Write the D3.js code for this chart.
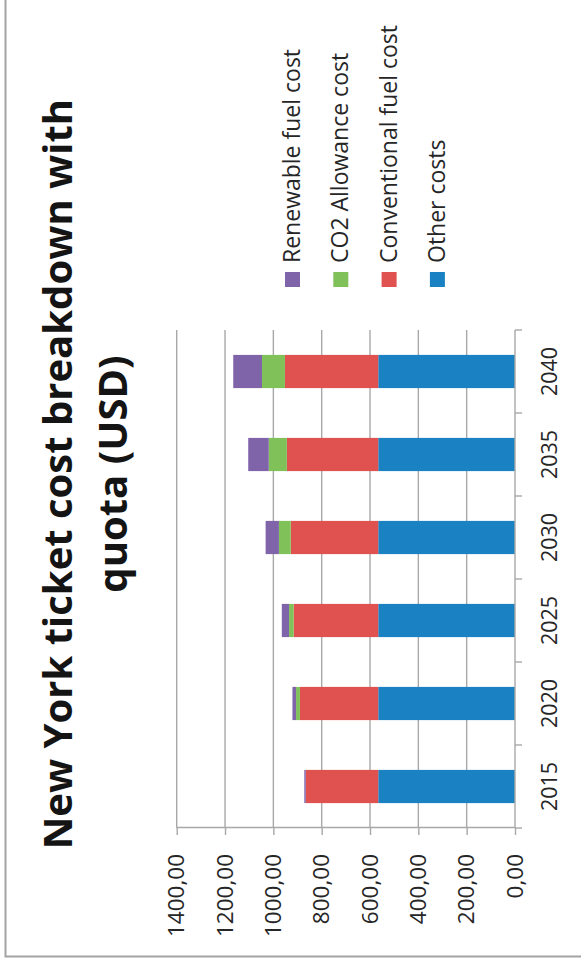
<!DOCTYPE html>
<html>
<head>
<meta charset="utf-8">
<script src="https://cdn.jsdelivr.net/npm/d3@7"></script>
<style>
  body { margin: 0; background: #fff; }
  svg { display: block; font-family: "Open Sans", sans-serif; }
</style>
</head>
<body>
<script>
// chart values (USD per ticket)
var years = ["2015", "2020", "2025", "2030", "2035", "2040"];
var otherCosts = [566, 566, 566, 566, 566, 566];
var conventionalFuel = [300, 324, 350, 362, 378, 386];
var co2Allowance = [0, 16, 19, 49, 75, 95];
var renewableFuel = [6, 15, 30, 55, 85, 119];
var valueTicks = [0, 200, 400, 600, 800, 1000, 1200, 1400];

var series = [
  {name: "Other costs", color: "#1a82c3", values: otherCosts},
  {name: "Conventional fuel cost", color: "#e0524f", values: conventionalFuel},
  {name: "CO2 Allowance cost", color: "#80c15a", values: co2Allowance},
  {name: "Renewable fuel cost", color: "#8064aa", values: renewableFuel}
];

var svg = d3.select("body").append("svg")
    .attr("width", 581)
    .attr("height", 966);

// frame (only left and bottom edges show)
svg.append("path")
    .attr("d", "M5.5,0 V956.5 H581")
    .attr("fill", "none")
    .attr("stroke", "#a3a3a3")
    .attr("stroke-width", 2);

// chart is laid out as a normal column chart (966 x 581) then turned
var g = svg.append("g")
    .attr("transform", "translate(0," + 966 + ") rotate(-90)");

var plot = {left: 138, right: 636, top: 176.7, bottom: 515};

var x = d3.scaleBand()
    .domain(years)
    .range([plot.left, plot.right])
    .paddingInner(0.6)
    .paddingOuter(0.3);

var y = d3.scaleLinear()
    .domain([0, 1400])
    .range([plot.bottom, plot.top]);

// gridlines
g.selectAll(".grid")
  .data(valueTicks.slice(1))
  .enter().append("line")
    .attr("x1", plot.left).attr("x2", plot.right)
    .attr("y1", function(d) { return y(d); })
    .attr("y2", function(d) { return y(d); })
    .attr("stroke", "#a8a8a8")
    .attr("stroke-width", 1.4);

// stacked bars
var rows = years.map(function(yr, i) {
  var r = {year: yr};
  series.forEach(function(s) { r[s.name] = s.values[i]; });
  return r;
});
var stack = d3.stack().keys(series.map(function(s) { return s.name; }))(rows);

g.selectAll(".layer")
  .data(stack)
  .enter().append("g")
    .attr("fill", function(d, i) { return series[i].color; })
  .selectAll("rect")
  .data(function(d) { return d; })
  .enter().append("rect")
    .attr("x", function(d) { return x(d.data.year); })
    .attr("width", x.bandwidth())
    .attr("y", function(d) { return y(d[1]); })
    .attr("height", function(d) { return y(d[0]) - y(d[1]); });

// value axis (left of the unturned chart)
var yAxis = g.append("g")
    .attr("transform", "translate(" + plot.left + ",0)")
    .call(d3.axisLeft(y)
      .tickValues(valueTicks)
      .tickSize(7)
      .tickSizeOuter(0)
      .tickPadding(19)
      .tickFormat(function(d) { return d3.format(".2f")(d).replace(".", ","); }));
yAxis.select(".domain").attr("stroke", "#a8a8a8").attr("stroke-width", 1.4);
yAxis.selectAll(".tick line").attr("stroke", "#a8a8a8").attr("stroke-width", 1.4);
yAxis.selectAll("text")
    .attr("font-size", 22.5)
    .attr("fill", "#262626")
    .attr("font-family", "Open Sans");

// category axis line and ticks
var step = x.step();
var catBounds = years.map(function(yr) { return x(yr) - step * 0.3; });
catBounds.push(plot.right);
g.append("line")
    .attr("x1", plot.left).attr("x2", plot.right)
    .attr("y1", plot.bottom).attr("y2", plot.bottom)
    .attr("stroke", "#a8a8a8").attr("stroke-width", 1.4);
g.selectAll(".ctick")
  .data(catBounds)
  .enter().append("line")
    .attr("x1", function(d) { return d; })
    .attr("x2", function(d) { return d; })
    .attr("y1", plot.bottom).attr("y2", plot.bottom + 7)
    .attr("stroke", "#a8a8a8").attr("stroke-width", 1.4);
g.selectAll(".clabel")
  .data(years)
  .enter().append("text")
    .attr("x", function(d) { return x(d) + x.bandwidth() / 2; })
    .attr("y", 557)
    .attr("text-anchor", "middle")
    .attr("font-size", 21.5)
    .attr("fill", "#262626")
    .text(function(d) { return d; });

// title
var title = g.append("text")
    .attr("text-anchor", "middle")
    .attr("font-weight", "bold")
    .attr("font-size", 40)
    .attr("fill", "#141414");
title.append("tspan").attr("x", 492).attr("y", 72).text("New York ticket cost breakdown with");
title.append("tspan").attr("x", 492).attr("y", 127).text("quota (USD)");

// legend
var legend = g.selectAll(".legend")
  .data(series.slice().reverse())
  .enter().append("g")
    .attr("transform", function(d, i) { return "translate(679," + (285 + i * 48.3) + ")"; });
legend.append("rect")
    .attr("width", 15).attr("height", 15)
    .attr("fill", function(d) { return d.color; });
legend.append("text")
    .attr("x", 24).attr("y", 15)
    .attr("font-size", 23)
    .attr("fill", "#262626")
    .text(function(d) { return d.name; });
</script>
</body>
</html>
